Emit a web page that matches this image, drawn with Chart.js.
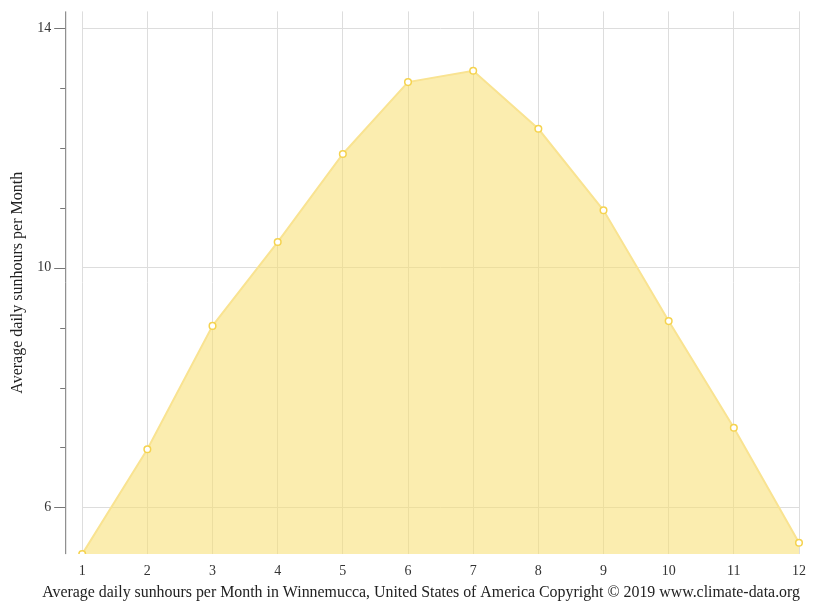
<!DOCTYPE html>
<html>
<head>
<meta charset="utf-8">
<title>Winnemucca sunhours</title>
<script src="https://cdn.jsdelivr.net/npm/chart.js@4"></script>
<style>
  html, body { margin: 0; padding: 0; background: #fff; }
  #wrap { width: 815px; height: 611px; }
</style>
</head>
<body>
<div id="wrap"><canvas id="sunChart"></canvas></div>
<script>
// data
const months = ['1', '2', '3', '4', '5', '6', '7', '8', '9', '10', '11', '12'];
const sunHours = [5.22, 6.97, 9.03, 10.43, 11.9, 13.1, 13.29, 12.32, 10.96, 9.11, 7.33, 5.41];
const yLabelTicks = [6, 10, 14];
const yMin = 5.22;
const yMax = 14.28;

const serif = '"Liberation Serif", "Times New Roman", serif';

// y axis line sits a bit left of the plot, with long ticks on labelled values
const offsetAxis = {
    id: 'offsetAxis',
    afterDraw(chart) {
        const { ctx, chartArea } = chart;
        const y = chart.scales.y;
        const axisX = chartArea.left - 17;
        ctx.save();
        ctx.strokeStyle = '#777';
        ctx.lineWidth = 1;
        ctx.beginPath();
        ctx.moveTo(axisX + 0.5, chartArea.top);
        ctx.lineTo(axisX + 0.5, chartArea.bottom);
        ctx.stroke();
        y.ticks.forEach(t => {
            if (!Number.isInteger(t.value)) return;
            const py = Math.round(y.getPixelForValue(t.value)) + 0.5;
            const len = yLabelTicks.includes(t.value) ? 11 : 5;
            ctx.beginPath();
            ctx.moveTo(axisX, py);
            ctx.lineTo(axisX - len, py);
            ctx.stroke();
        });
        ctx.restore();
    }
};

new Chart(document.getElementById('sunChart'), {
    type: 'line',
    data: {
        labels: months,
        datasets: [{
            label: 'Average daily sunhours',
            data: sunHours,
            fill: 'start',
            tension: 0,
            backgroundColor: 'rgba(247, 222, 110, 0.55)',
            borderColor: '#f9e391',
            borderWidth: 2,
            pointRadius: 3.3,
            pointBorderWidth: 1.5,
            pointBackgroundColor: '#ffffff',
            pointBorderColor: '#f5d34f'
        }]
    },
    options: {
        responsive: true,
        maintainAspectRatio: false,
        animation: false,
        layout: { padding: { top: 4, right: 15, bottom: 0, left: 0 } },
        plugins: {
            legend: { display: false },
            tooltip: { enabled: false },
            title: {
                display: true,
                position: 'bottom',
                align: 'end',
                text: 'Average daily sunhours per Month in Winnemucca, United States of America Copyright © 2019 www.climate-data.org',
                color: '#222',
                font: { family: serif, size: 15.9, weight: 'normal' },
                padding: { top: -6, bottom: 9 }
            }
        },
        scales: {
            x: {
                grid: { color: '#dddddd', drawTicks: false },
                border: { display: false },
                ticks: { color: '#333', padding: 9, font: { family: serif, size: 14 } }
            },
            y: {
                min: yMin,
                max: yMax,
                border: { display: false },
                grid: {
                    color: ctx => yLabelTicks.includes(ctx.tick.value) ? '#dddddd' : 'rgba(0,0,0,0)',
                    tickColor: 'rgba(0,0,0,0)',
                    tickLength: 28
                },
                ticks: {
                    stepSize: 1,
                    padding: 3,
                    color: '#333',
                    font: { family: serif, size: 14 },
                    callback: v => yLabelTicks.includes(v) ? String(v) : ''
                },
                title: {
                    display: true,
                    text: 'Average daily sunhours per Month',
                    color: '#222',
                    font: { family: serif, size: 16 },
                    padding: { top: 8, bottom: 7 }
                }
            }
        }
    },
    plugins: [offsetAxis]
});
</script>
</body>
</html>
